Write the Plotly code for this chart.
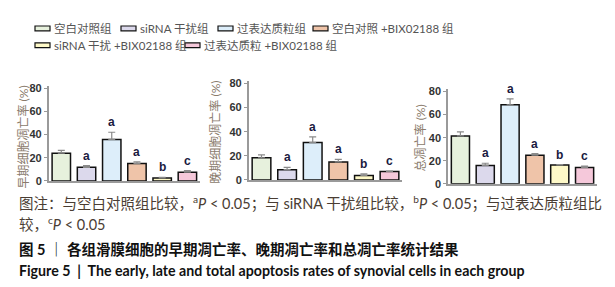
import plotly.graph_objects as go

W, H = 615, 287

groups = ["空白对照组", "siRNA 干扰组", "过表达质粒组", "空白对照 +BIX02188 组",
          "siRNA 干扰 +BIX02188 组", "过表达质粒 +BIX02188 组"]
colors = ["#E7F1DD", "#DCD9EC", "#DDEEFA", "#EFC4A9", "#FEF9C8", "#F5C8DA"]

early_vals = [23.9, 11.7, 35.8, 15.0, 2.5, 7.5]
early_err = [2.5, 1.6, 6.2, 1.4, 0.5, 1.4]
late_vals = [18.4, 8.5, 31.0, 14.9, 3.7, 7.0]
late_err = [2.4, 1.9, 4.7, 2.1, 1.3, 0.3]
total_vals = [41.5, 15.9, 68.5, 24.8, 16.4, 14.2]
total_err = [3.5, 1.9, 5.1, 1.4, 0.3, 1.1]
sig_letters = ["", "a", "a", "a", "b", "c"]

y_titles = ["早期细胞凋亡率 (%)", "晚期细胞凋亡率 (%)", "总凋亡率 (%)"]
y_ticks = [0, 20, 40, 60, 80]

caption_note = ("图注：与空白对照组比较，<sup>a</sup><i>P</i> < 0.05；与 siRNA 干扰组比较，"
                "<sup>b</sup><i>P</i> < 0.05；与过表达质粒组比")
caption_note2 = "较，<sup>c</sup><i>P</i> < 0.05"
caption_cn = "图 5 ｜ 各组滑膜细胞的早期凋亡率、晚期凋亡率和总凋亡率统计结果"
caption_en = "Figure 5  |  The early, late and total apoptosis rates of synovial cells in each group"


def px_x(p):
    return p / W


def px_y(p):
    return 1 - p / H


panels = [
    dict(vals=early_vals, err=early_err, xdom=(40.7, 192.0), ydom=(175.0, 76.6), title_xy=(15, 130)),
    dict(vals=late_vals, err=late_err, xdom=(240.7, 394.3), ydom=(174.0, 71.5), title_xy=(208, 125)),
    dict(vals=total_vals, err=total_err, xdom=(440.0, 589.0), ydom=(178.0, 80.0), title_xy=(412, 131)),
]

fig = go.Figure()
annotations = []
layout_axes = {}
cn_font = "Lato, Noto Sans CJK SC"

for i, p in enumerate(panels):
    suffix = "" if i == 0 else str(i + 1)
    xa, ya = "x" + suffix, "y" + suffix
    fig.add_trace(go.Bar(
        x=groups, y=p["vals"], xaxis=xa, yaxis=ya,
        marker=dict(color=colors, line=dict(color="#111111", width=1.5)),
        width=0.73, showlegend=False,
        error_y=dict(type="data", symmetric=False, array=p["err"], arrayminus=[0] * 6,
                     color="#8a8a8a", thickness=1.2, width=3.5),
    ))
    layout_axes["xaxis" + suffix] = dict(
        domain=[px_x(p["xdom"][0]), px_x(p["xdom"][1])], anchor=ya,
        showticklabels=False, ticks="", showgrid=False, zeroline=False,
        showline=True, linecolor="#9a9a9a", linewidth=1.5,
        range=[-0.5, 5.5], fixedrange=True,
    )
    layout_axes["yaxis" + suffix] = dict(
        domain=[px_y(p["ydom"][0]), px_y(p["ydom"][1])], anchor=xa,
        range=[0, 82], tickvals=y_ticks, ticks="outside", ticklen=3, tickwidth=1,
        tickcolor="#9a9a9a", showgrid=False, zeroline=False,
        showline=True, linecolor="#9a9a9a", linewidth=1.5,
        tickfont=dict(family="Liberation Sans", size=11, color="#333333", weight="bold"),
    )
    for g, v, e, s in zip(groups, p["vals"], p["err"], sig_letters):
        if s:
            annotations.append(dict(
                x=g, y=v + e, xref=xa, yref=ya, text=s, showarrow=False,
                yanchor="bottom", yshift=1,
                font=dict(family="Liberation Sans", size=12, color="#1a1a40", weight="bold"),
            ))
    tx, ty = p["title_xy"]
    annotations.append(dict(
        x=px_x(tx), y=px_y(ty), xref="paper", yref="paper", text=y_titles[i],
        showarrow=False, textangle=-90, xanchor="center", yanchor="middle",
        font=dict(family=cn_font, size=12, color="#8a7b6c"),
    ))

# manual legend
legend_pos = [(27, 17), (113, 17), (210, 17), (305, 17), (27, 34.5), (177, 34.5)]
shapes = []
for (lx, ly), g, c in zip(legend_pos, groups, colors):
    shapes.append(dict(type="rect", xref="paper", yref="paper",
                       x0=px_x(lx), x1=px_x(lx + 15), y0=px_y(ly + 2.5), y1=px_y(ly - 2.5),
                       fillcolor=c, line=dict(color="#111111", width=1.2)))
    annotations.append(dict(
        x=px_x(lx + 17), y=px_y(ly), xref="paper", yref="paper", text=g,
        showarrow=False, xanchor="left", yanchor="middle",
        font=dict(family=cn_font, size=11.5, color="#555555"),
    ))

# captions
cap_lines = [
    (caption_note, 198, dict(family=cn_font, size=14.5, color="#4a3d33")),
    (caption_note2, 219, dict(family=cn_font, size=14.5, color="#4a3d33")),
    (caption_cn, 246, dict(family=cn_font, size=14.5, color="#111111", weight="bold")),
    (caption_en, 268, dict(family=cn_font, size=14.2, color="#111111", weight="bold")),
]
for text, yy, f in cap_lines:
    annotations.append(dict(
        x=px_x(9), y=px_y(yy), xref="paper", yref="paper", text=text,
        showarrow=False, xanchor="left", yanchor="middle", font=f,
    ))

fig.update_layout(
    width=W, height=H, margin=dict(l=0, r=0, t=0, b=0),
    paper_bgcolor="white", plot_bgcolor="white",
    annotations=annotations, shapes=shapes, bargap=0.27,
    **layout_axes,
)

fig.write_html("out.html")
